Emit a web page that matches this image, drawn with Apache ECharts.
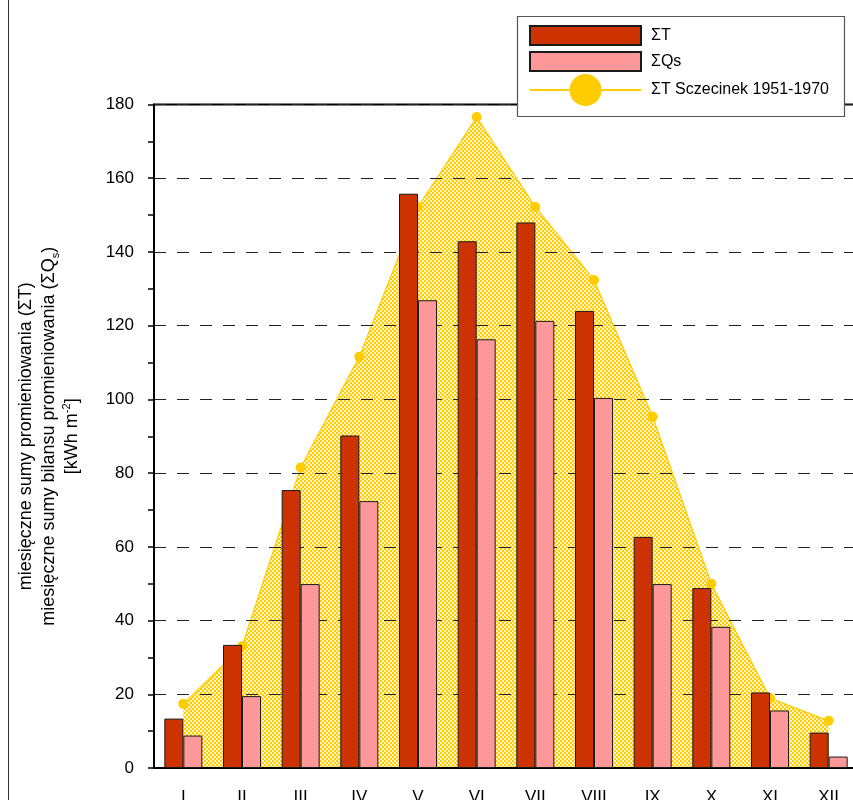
<!DOCTYPE html>
<html>
<head>
<meta charset="utf-8">
<script src="https://cdn.jsdelivr.net/npm/echarts@6/dist/echarts.min.js"></script>
<style>
  html, body { margin: 0; padding: 0; background: #fff; }
  #chart { width: 853px; height: 800px; }
</style>
</head>
<body>
<div id="chart"></div>
<script>
// Monthly radiation sums [kWh m-2]
const months = ['I', 'II', 'III', 'IV', 'V', 'VI', 'VII', 'VIII', 'IX', 'X', 'XI', 'XII'];
const sumT = [13.4, 33.4, 75.4, 90.2, 155.8, 142.9, 148.0, 124.0, 62.7, 48.8, 20.5, 9.6];
const sumQs = [8.8, 19.5, 49.9, 72.4, 126.9, 116.3, 121.3, 100.4, 49.9, 38.3, 15.6, 3.1];
const sumTSzczecinek = [17.4, 33.0, 81.5, 111.6, 152.2, 176.6, 152.2, 132.4, 95.3, 50.0, 19.0, 12.8];
const yTicks = { min: 0, max: 180, interval: 20 };

const nameT = 'ΣT';
const nameQs = 'ΣQs';
const nameRef = 'ΣT Sczecinek 1951-1970';

const FONT = '"Liberation Sans", Arial, sans-serif';
const GOLD = '#FFCC00';

// Checkerboard fill for the long-term reference area
function checkerPattern() {
  const c = document.createElement('canvas');
  c.width = 4; c.height = 4;
  const ctx = c.getContext('2d');
  ctx.fillStyle = '#FFF4C8';
  ctx.fillRect(0, 0, 4, 4);
  ctx.fillStyle = GOLD;
  ctx.fillRect(0, 0, 2, 2);
  ctx.fillRect(2, 2, 2, 2);
  return c;
}

const chart = echarts.init(document.getElementById('chart'), null, { renderer: 'canvas' });

const option = {
  animation: false,
  backgroundColor: '#ffffff',
  textStyle: { fontFamily: FONT, color: '#000' },
  grid: {
    left: 154, top: 104.5, width: 704, height: 663.5,
    outerBoundsMode: 'none',
    containLabel: false,
    show: true, borderColor: '#000', borderWidth: 2, backgroundColor: 'transparent'
  },
  graphic: [
    { type: 'line', z: 1, shape: { x1: 8.5, y1: 0, x2: 8.5, y2: 800 }, style: { stroke: '#333', lineWidth: 1 } },
    { type: 'rect', z: 50, shape: { x: 517.5, y: 16.5, width: 327, height: 100 },
      style: { fill: '#fff', stroke: '#555', lineWidth: 1.2 } }
  ],
  legend: [
    {
      z: 60, left: 529, top: 25, orient: 'vertical', padding: 0,
      itemWidth: 111, itemHeight: 19, itemGap: 5,
      icon: 'rect',
      data: [nameT, nameQs],
      textStyle: { fontFamily: FONT, fontSize: 16, lineHeight: 19, color: '#000', padding: [0, 0, 0, 5] }
    },
    {
      z: 60, left: 529, top: 74, orient: 'vertical', padding: 0,
      itemWidth: 111, itemHeight: 40,
      data: [nameRef],
      textStyle: { fontFamily: FONT, fontSize: 16, lineHeight: 19, color: '#000', padding: [0, 0, 0, 5] }
    }
  ],
  xAxis: {
    type: 'category',
    data: months,
    z: 3,
    boundaryGap: true,
    axisLine: { lineStyle: { color: '#000', width: 2 } },
    axisTick: { alignWithLabel: true, length: 7, lineStyle: { color: '#000', width: 2 } },
    axisLabel: { fontFamily: FONT, fontSize: 17, color: '#000', margin: 21 },
    splitLine: { show: false }
  },
  yAxis: {
    type: 'value',
    min: yTicks.min, max: yTicks.max, interval: yTicks.interval,
    z: 3,
    name: '{a|miesięczne sumy promieniowania (ΣT)}\n{a|miesięczne sumy bilansu promieniowania (ΣQ}{sub|s}{a|)}\n{a|[kWh m}{sup|-2}{a|]}',
    nameLocation: 'middle',
    nameRotate: 90,
    nameGap: 70,
    nameTextStyle: {
      fontFamily: FONT, color: '#000', align: 'center',
      rich: {
        a: { fontFamily: FONT, fontSize: 18, lineHeight: 23, color: '#000' },
        sub: { fontFamily: FONT, fontSize: 11, lineHeight: 11, verticalAlign: 'bottom', color: '#000' },
        sup: { fontFamily: FONT, fontSize: 11, lineHeight: 11, verticalAlign: 'top', color: '#000' }
      }
    },
    axisLine: { show: true, lineStyle: { color: '#000', width: 2 } },
    axisTick: { show: true, length: 6, lineStyle: { color: '#000', width: 1.5 } },
    minorTick: { show: true, splitNumber: 2, length: 6, lineStyle: { color: '#000', width: 1.5 } },
    axisLabel: { fontFamily: FONT, fontSize: 17, color: '#000', margin: 20 },
    splitLine: { show: true, lineStyle: { color: '#222', width: 1, type: [12, 11] } }
  },
  series: [
    {
      name: nameRef,
      type: 'line',
      z: 1,
      data: sumTSzczecinek,
      symbol: 'circle',
      symbolSize: 10,
      lineStyle: { color: GOLD, width: 1.2 },
      itemStyle: { color: GOLD },
      areaStyle: { color: { image: checkerPattern(), repeat: 'repeat' }, opacity: 1 }
    },
    {
      name: nameT,
      type: 'bar',
      z: 5,
      data: sumT,
      barWidth: 19,
      barGap: '0%',
      itemStyle: { color: '#CC3300', borderColor: '#1a1a1a', borderWidth: 1 }
    },
    {
      name: nameQs,
      type: 'bar',
      z: 5,
      data: sumQs,
      barWidth: 19,
      barGap: '0%',
      itemStyle: { color: '#FF9999', borderColor: '#1a1a1a', borderWidth: 1 }
    }
  ]
};

chart.setOption(option);
</script>
</body>
</html>
